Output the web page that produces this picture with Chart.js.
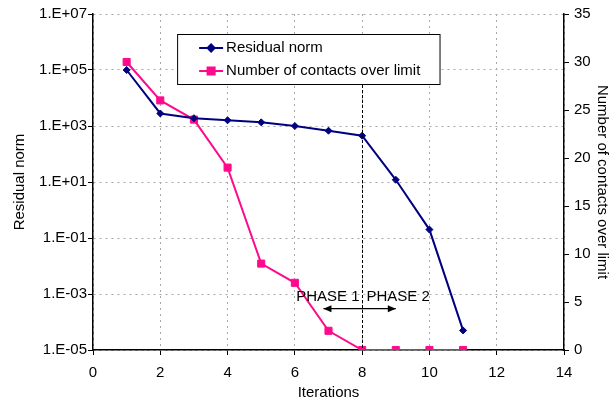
<!DOCTYPE html>
<html>
<head>
<meta charset="utf-8">
<script src="https://cdn.jsdelivr.net/npm/chart.js@4"></script>
<style>
  body { margin: 0; background: #fff; }
  #wrap { width: 610px; height: 400px; }
</style>
</head>
<body>
<div id="wrap"><canvas id="convChart" width="610" height="400"></canvas></div>
<script>
// data
const iterations = [1, 2, 3, 4, 5, 6, 7, 8, 9, 10, 11];
const residualNorm = [1.0e5, 2.8e3, 1.9e3, 1.6e3, 1.35e3, 1.0e3, 680, 450, 12, 0.2, 5e-5];
const contactsOverLimit = [30, 26, 24, 19, 9, 7, 2, 0, 0, 0, 0];
const residualTicks = [1e-5, 1e-3, 1e-1, 1e1, 1e3, 1e5, 1e7];
const phaseSplit = 8;

let navy = '#000080';
let pink = '#FF0A8C';
let gridGrey = '#a8a8a8';
let fontName = "'Liberation Sans', Arial, sans-serif";

Chart.defaults.font.family = fontName;
Chart.defaults.font.size = 15;
Chart.defaults.color = '#000';

function sciLabel(v) {
    const e = Math.round(Math.log10(v));
    return '1.E' + (e < 0 ? '-' : '+') + String(Math.abs(e)).padStart(2, '0');
}

// legend box + phase markers drawn on top of the plot
const overlay = {
    id: 'overlay',
    afterDatasetsDraw(chart) {
        const { ctx, chartArea: a, scales: { x, y2 } } = chart;
        ctx.save();

        // legend
        const lx = x.getPixelForValue(2.5), rx = x.getPixelForValue(10.3);
        const ty = a.top + 20, by = a.top + 70;
        ctx.fillStyle = '#fff';
        ctx.fillRect(lx, ty, rx - lx, by - ty);
        ctx.strokeStyle = '#000';
        ctx.lineWidth = 1;
        ctx.strokeRect(lx + 0.5, ty + 0.5, rx - lx, by - ty);

        const rows = [
            { text: 'Residual norm', color: navy, style: 'rectRot', r: 3.5 },
            { text: 'Number of contacts over limit', color: pink, style: 'rect', r: 5 }
        ];
        rows.forEach((row, i) => {
            const cy = ty + 14 + i * 23;
            ctx.strokeStyle = row.color;
            ctx.lineWidth = 2;
            ctx.beginPath();
            ctx.moveTo(lx + 22, cy);
            ctx.lineTo(lx + 46, cy);
            ctx.stroke();
            ctx.fillStyle = row.color;
            Chart.helpers.drawPoint(ctx, { pointStyle: row.style, radius: row.r, borderWidth: 1 }, lx + 34, cy);
            ctx.fill();
            ctx.fillStyle = '#000';
            ctx.font = '15px ' + fontName;
            ctx.textAlign = 'left';
            ctx.textBaseline = 'middle';
            ctx.fillText(row.text, lx + 49, cy);
        });

        // dashed phase divider
        const px = Math.round(x.getPixelForValue(phaseSplit)) + 0.5;
        ctx.strokeStyle = '#000';
        ctx.lineWidth = 1;
        ctx.setLineDash([3, 2]);
        ctx.beginPath();
        ctx.moveTo(px, by + 1);
        ctx.lineTo(px, a.bottom);
        ctx.stroke();
        ctx.setLineDash([]);

        // arrow
        const ay = y2.getPixelForValue(4.3);
        const ax1 = x.getPixelForValue(6.85), ax2 = x.getPixelForValue(9.0);
        ctx.lineWidth = 1.2;
        ctx.beginPath();
        ctx.moveTo(ax1, ay);
        ctx.lineTo(ax2, ay);
        ctx.stroke();
        [[ax1, 1], [ax2, -1]].forEach(([hx, d]) => {
            ctx.beginPath();
            ctx.moveTo(hx, ay);
            ctx.lineTo(hx + d * 8, ay - 3.5);
            ctx.lineTo(hx + d * 8, ay + 3.5);
            ctx.closePath();
            ctx.fillStyle = '#000';
            ctx.fill();
        });

        // phase labels
        const tyy = y2.getPixelForValue(5.5);
        ctx.fillStyle = '#000';
        ctx.font = '15px ' + fontName;
        ctx.textBaseline = 'middle';
        ctx.textAlign = 'right';
        ctx.fillText('PHASE 1', px - 3, tyy);
        ctx.textAlign = 'left';
        ctx.fillText('PHASE 2', px + 4, tyy);

        ctx.restore();
    }
};

var ctx = document.getElementById('convChart').getContext('2d');

var convChart = new Chart(ctx, {
    type: 'line',
    data: {
        datasets: [{
            label: 'Residual norm',
            data: iterations.map((it, i) => ({ x: it, y: residualNorm[i] })),
            yAxisID: 'y',
            borderColor: navy,
            backgroundColor: navy,
            borderWidth: 2,
            pointStyle: 'rectRot',
            pointRadius: 3.5,
            pointBorderWidth: 1,
            tension: 0
        }, {
            label: 'Number of contacts over limit',
            data: iterations.map((it, i) => ({ x: it, y: contactsOverLimit[i] })),
            yAxisID: 'y2',
            borderColor: pink,
            backgroundColor: pink,
            borderWidth: 2,
            pointStyle: 'rect',
            pointRadius: 5,
            pointBorderWidth: 1,
            tension: 0
        }]
    },
    options: {
        responsive: false,
        animation: false,
        devicePixelRatio: 1,
        layout: { padding: { top: 14, left: 0, right: 0, bottom: 0 } },
        plugins: {
            legend: { display: false },
            tooltip: { enabled: false }
        },
        scales: {
            x: {
                type: 'linear',
                min: 0,
                max: 14,
                ticks: { stepSize: 2, padding: 9 },
                grid: { color: gridGrey, tickColor: '#000', tickLength: 5 },
                border: { color: '#000', width: 1.5, dash: [2, 4] },
                title: { display: true, text: 'Iterations', padding: { top: 0, bottom: -2 } },
                afterFit(scale) { scale.height = 50; }
            },
            y: {
                type: 'logarithmic',
                position: 'left',
                min: 1e-5,
                max: 1e7,
                afterBuildTicks(scale) {
                    scale.ticks = residualTicks.map(v => ({ value: v, major: true }));
                },
                ticks: { callback: v => sciLabel(v), padding: 1, autoSkip: false },
                grid: { color: gridGrey, tickColor: '#000', tickLength: 5 },
                border: { color: '#000', width: 1.5, dash: [2, 4] },
                title: { display: true, text: 'Residual norm', padding: { top: 11, bottom: 0 } },
                afterFit(scale) { scale.width = 93; }
            },
            y2: {
                type: 'linear',
                position: 'right',
                min: 0,
                max: 35,
                ticks: { stepSize: 5, padding: 5 },
                grid: { drawOnChartArea: false, tickColor: '#000', tickLength: 5 },
                border: { color: '#000', width: 1.5 },
                title: { display: true, text: 'Number of contacts over limit', font: { lineHeight: 1 }, padding: { top: 0, bottom: 0 } },
                afterFit(scale) { scale.width = 46; }
            }
        }
    },
    plugins: [overlay]
});
</script>
</body>
</html>
